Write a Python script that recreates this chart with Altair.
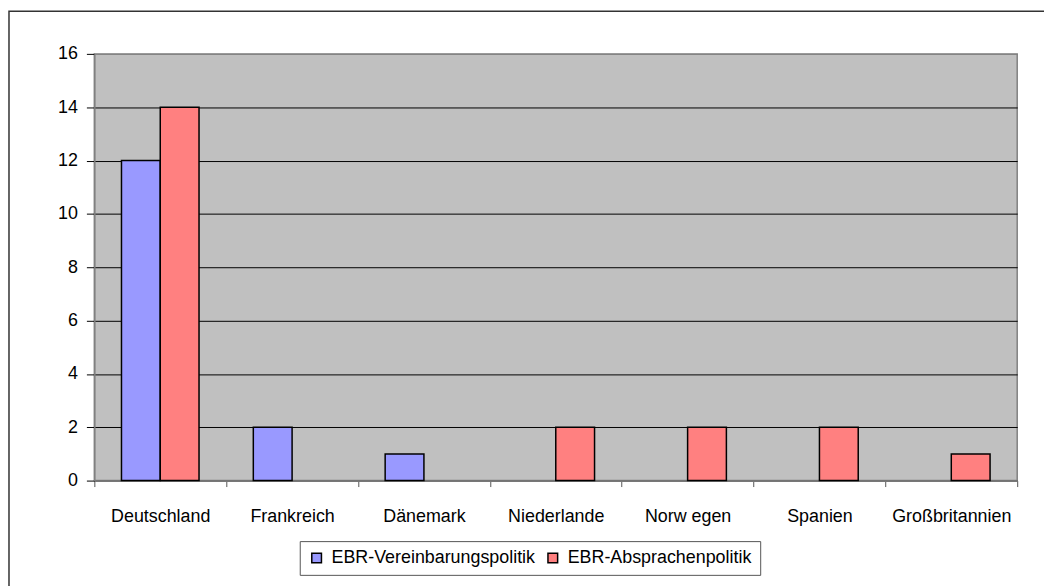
import altair as alt
import pandas as pd

countries = ["Deutschland", "Frankreich", "Dänemark", "Niederlande", "Norw egen", "Spanien", "Großbritannien"]
series_names = ["EBR-Vereinbarungspolitik", "EBR-Absprachenpolitik"]
vereinbarung = [12, 2, 1, 0, 0, 0, 0]
absprachen = [14, 0, 0, 2, 2, 2, 1]
colors = ["#9999FF", "#FF8080"]
y_ticks = [0, 2, 4, 6, 8, 10, 12, 14, 16]

rows = []
for c, v1, v2 in zip(countries, vereinbarung, absprachen):
    rows.append({"Land": c, "Reihe": series_names[0], "Wert": v1})
    rows.append({"Land": c, "Reihe": series_names[1], "Wert": v2})
df = pd.DataFrame(rows)

FONT = "Liberation Sans"
FS = 18

bars = alt.Chart(df).transform_filter("datum.Wert > 0").mark_bar(
    stroke="black", strokeWidth=1.5
).encode(
    x=alt.X("Land:N", sort=countries, title=None,
            scale=alt.Scale(domain=countries, paddingInner=0, paddingOuter=0),
            axis=alt.Axis(labelAngle=0, labelFont=FONT, labelFontSize=FS, labelColor="black",
                          labelPadding=21, tickBand="extent", tickSize=6, tickColor="#555555",
                          domainColor="#808080", domainWidth=1.5, labelLimit=300)),
    xOffset=alt.XOffset("Reihe:N", sort=series_names,
                        scale=alt.Scale(domain=series_names, paddingInner=0, paddingOuter=0.7)),
    y=alt.Y("Wert:Q", title=None,
            scale=alt.Scale(domain=[0, 16], nice=False),
            axis=alt.Axis(values=y_ticks, labelFont=FONT, labelFontSize=FS, labelColor="black",
                          labelPadding=9, tickSize=8, tickColor="#000000",
                          domainColor="#808080", domainWidth=1.5,
                          grid=True,
                          gridColor=alt.condition("datum.value == 16", alt.value("#808080"), alt.value("#000000")),
                          gridWidth=1)),
    color=alt.Color("Reihe:N", sort=series_names,
                    scale=alt.Scale(domain=series_names, range=colors),
                    legend=alt.Legend(title=None, orient="none", legendX=207, legendY=491,
                                      direction="horizontal", symbolType="square", symbolSize=95,
                                      symbolStrokeColor="black", symbolStrokeWidth=1.5,
                                      symbolOpacity=1,
                                      labelFont=FONT, labelFontSize=FS, labelColor="black",
                                      labelOffset=6, columnPadding=8, padding=8,
                                      strokeColor="#555555", fillColor="white",
                                      labelLimit=400)),
)

frame = alt.Chart(pd.DataFrame({"a": [0]})).mark_rect(
    fill=None, stroke="#333333", strokeWidth=1.5, clip=False
).encode(
    x=alt.value(-86), x2=alt.value(1100),
    y=alt.value(-43), y2=alt.value(700),
)

chart = alt.layer(frame, bars).properties(
    width=930, height=430,
    autosize=alt.AutoSizeParams(type="none"),
    padding={"left": 87, "top": 44, "right": 27, "bottom": 104},
).configure(
    background="white",
    view=alt.ViewConfig(fill="#C0C0C0", stroke="#808080", strokeWidth=1.5),
)

chart.save("out.html", embed_options={"renderer": "svg", "actions": False})
